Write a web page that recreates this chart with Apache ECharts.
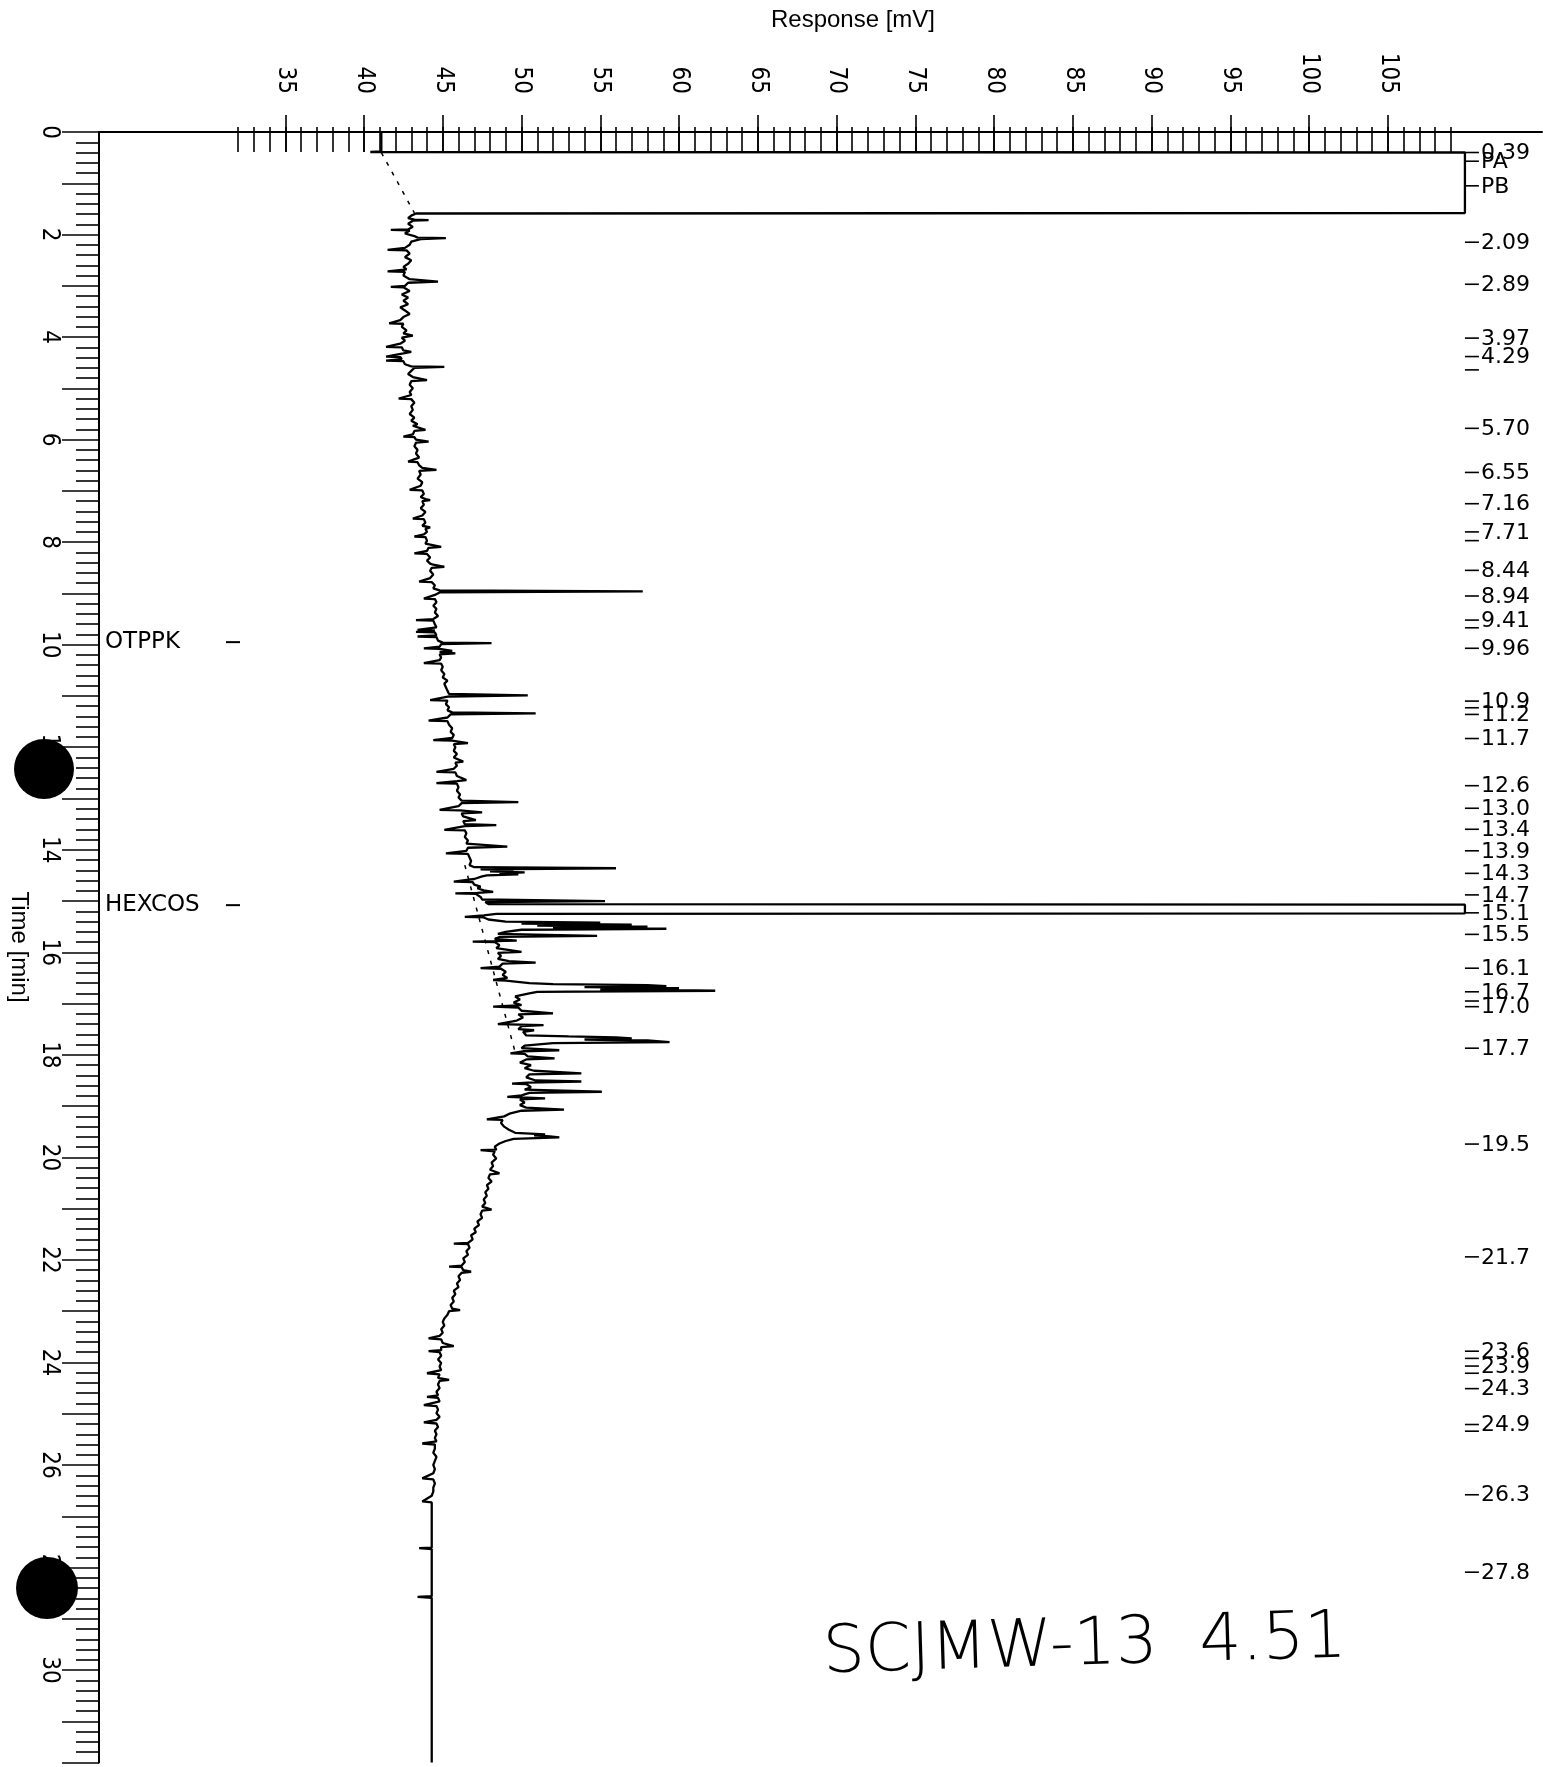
<!DOCTYPE html>
<html><head><meta charset="utf-8">
<script src="https://cdn.jsdelivr.net/npm/echarts@6/dist/echarts.min.js"></script>
<style>html,body{margin:0;padding:0;background:#fff}#c{width:1552px;height:1767px}</style>
</head><body><div id="c"></div>
<script>
// ---------------- data ----------------
// chromatogram trace: [time (min), response (mV)]
const trace = [
[0.00,41.1],[0.38,41.1],[0.39,40.4],[0.40,109.9],[1.58,109.9],[1.59,43.3],
[1.63,43.0],[1.68,42.8],[1.71,43.2],[1.72,44.1],[1.73,43.1],[1.79,42.8],[1.85,43.1],[1.90,42.8],[1.91,41.7],[1.92,42.9],[1.98,42.6],[2.03,43.2],[2.06,43.4],[2.07,45.2],[2.09,43.6],[2.14,43.0],[2.20,42.9],[2.26,42.6],[2.30,41.5],[2.31,42.7],[2.37,42.9],[2.44,42.6],[2.50,43.0],[2.57,42.8],[2.63,42.5],[2.68,42.7],[2.72,41.5],[2.73,42.6],[2.80,42.5],[2.87,42.9],[2.92,44.7],[2.94,42.8],[3.00,42.6],[3.02,41.7],[3.03,42.5],[3.10,42.9],[3.17,42.4],[3.23,42.8],[3.29,42.5],[3.36,42.8],[3.42,42.3],[3.48,42.6],[3.55,42.9],[3.61,42.5],[3.67,42.3],[3.73,41.6],[3.74,42.5],[3.80,42.4],[3.87,42.7],[3.93,42.5],[3.97,43.1],[4.01,42.4],[4.07,42.6],[4.13,42.3],[4.19,41.4],[4.20,42.4],[4.26,42.5],[4.29,43.0],[4.32,42.5],[4.38,41.4],[4.39,42.3],[4.43,42.4],[4.46,41.4],[4.47,42.5],[4.53,42.6],[4.57,43.0],[4.58,45.1],[4.60,43.2],
[4.66,43.0],[4.72,42.8],[4.78,43.1],[4.84,44.0],[4.86,43.0],[4.93,42.9],[5.00,43.1],[5.07,42.9],[5.13,43.0],[5.20,42.2],[5.21,43.0],[5.28,43.2],[5.35,43.0],[5.42,43.1],[5.50,42.9],[5.57,43.2],[5.63,43.0],[5.70,43.4],[5.73,43.1],[5.81,43.9],[5.83,43.2],[5.90,43.1],[5.94,42.5],[5.95,43.2],[6.00,43.3],[6.04,44.1],[6.06,43.3],[6.13,43.2],[6.20,43.4],[6.27,43.3],[6.35,43.5],[6.43,42.8],[6.44,43.4],[6.50,43.5],[6.55,43.7],[6.59,44.6],[6.61,43.5],[6.68,43.6],[6.76,43.4],[6.83,43.7],[6.90,43.6],[6.98,42.9],[6.99,43.7],[7.06,43.8],[7.12,43.6],[7.16,43.9],[7.18,44.2],[7.20,43.7],[7.27,43.8],[7.34,43.6],[7.41,43.9],[7.48,43.7],[7.54,43.1],[7.55,43.8],[7.62,43.9],[7.68,43.7],[7.71,44.2],[7.74,43.9],[7.80,44.0],[7.85,43.8],[7.89,43.2],[7.90,43.9],[7.97,44.0],[8.03,43.9],[8.09,44.9],[8.11,44.1],[8.17,44.0],[8.22,43.2],[8.23,44.0],[8.30,44.2],[8.36,44.0],[8.42,44.2],[8.44,44.4],[8.48,45.1],[8.50,44.3],[8.56,44.2],[8.63,44.4],[8.70,44.2],[8.77,43.5],[8.78,44.3],[8.84,44.5],[8.90,44.4],[8.94,44.8],[8.96,57.7],[8.98,44.8],[9.03,44.5],
[9.10,43.8],[9.11,44.5],[9.17,44.6],[9.24,44.4],[9.30,44.6],[9.37,44.5],[9.44,44.7],[9.50,44.4],[9.52,43.3],[9.53,44.4],[9.60,44.5],[9.66,44.6],[9.71,43.4],[9.72,44.5],[9.75,43.3],[9.76,44.5],[9.82,44.6],[9.84,43.4],[9.85,44.6],[9.92,44.7],[9.96,45.0],[9.97,48.1],[9.99,44.9],[10.04,44.8],[10.07,43.8],[10.08,44.8],[10.12,45.6],[10.14,44.8],[10.17,45.8],[10.19,44.8],[10.25,44.9],[10.30,44.8],[10.36,43.8],[10.37,44.9],[10.43,45.0],[10.50,44.9],
[10.57,45.1],[10.64,45.0],[10.70,45.3],[10.76,45.1],[10.83,45.2],[10.90,45.3],[10.96,45.4],[10.99,50.4],[11.01,45.4],[11.08,44.2],[11.09,45.3],[11.16,45.2],[11.22,45.4],[11.28,45.3],[11.32,45.6],[11.34,50.9],[11.36,45.5],[11.42,45.3],[11.48,44.1],[11.49,45.3],[11.56,45.4],[11.63,45.6],[11.70,45.5],[11.76,45.7],[11.82,45.6],[11.86,44.4],[11.87,45.6],[11.92,46.6],[11.94,45.7],[12.00,45.8],[12.07,45.7],[12.13,45.9],[12.20,45.7],[12.28,46.3],[12.30,45.8],[12.36,45.9],[12.42,45.7],[12.48,44.6],[12.49,45.8],[12.56,45.9],[12.64,46.5],[12.66,45.9],[12.70,44.6],[12.71,45.9],[12.78,46.0],[12.85,45.9],[12.92,46.1],[12.98,46.0],[13.04,46.2],[13.07,49.8],[13.09,46.2],
[13.15,46.0],[13.22,44.8],[13.23,46.1],[13.27,47.5],[13.29,46.2],[13.35,46.3],[13.42,47.1],[13.44,46.3],[13.50,46.4],[13.52,48.4],[13.54,46.4],[13.61,45.1],[13.62,46.4],[13.68,46.5],[13.75,46.4],[13.82,46.6],[13.88,46.5],[13.94,49.1],[13.96,46.6],[14.02,46.5],[14.07,45.2],[14.08,46.6],[14.15,46.7],[14.22,46.8],[14.30,46.7],[14.34,47.0],[14.36,56.0],[14.38,47.4],[14.40,49.5],[14.42,48.0],[14.44,50.2],[14.46,48.6],[14.48,49.8],[14.50,47.8],[14.52,47.5],[14.57,47.0],[14.62,45.7],[14.63,46.9],[14.68,47.0],[14.72,47.4],[14.75,47.2],[14.79,47.6],[14.82,48.2],[14.84,47.2],[14.85,45.8],[14.86,47.1],[14.92,47.4],[14.97,47.5],[15.00,55.3],[15.02,47.7],[15.06,47.9],[15.07,109.9],[15.24,109.9],[15.25,48.4],
[15.28,47.6],[15.31,46.4],[15.32,47.6],[15.36,47.9],[15.40,49.0],[15.42,55.0],[15.44,50.0],[15.46,57.0],[15.48,51.0],[15.50,58.0],[15.52,52.0],[15.54,59.2],[15.56,50.0],[15.60,49.0],[15.64,48.5],[15.68,54.8],[15.70,48.6],[15.74,48.3],[15.77,49.7],[15.79,46.9],[15.80,48.3],[15.86,48.6],[15.92,48.4],[15.99,50.0],[16.01,48.5],[16.07,48.7],[16.13,48.5],[16.17,49.2],[16.20,50.9],[16.22,48.8],[16.28,48.6],[16.31,47.4],[16.32,48.7],[16.38,49.0],[16.44,48.8],[16.50,49.1],[16.54,48.2],[16.55,49.0],[16.60,50.5],[16.62,52.0],[16.64,58.0],[16.66,59.2],[16.68,54.0],[16.70,60.0],[16.72,55.0],[16.75,62.3],[16.77,51.0],[16.80,50.5],[16.86,49.6],[16.92,49.9],[16.98,49.5],[17.03,50.0],[17.05,50.1],[17.06,48.2],[17.08,49.8],[17.14,50.0],[17.19,52.0],[17.21,49.8],[17.27,50.1],[17.33,49.7],[17.40,48.5],[17.41,49.9],[17.42,51.4],[17.44,50.0],[17.50,49.8],[17.52,50.8],[17.55,50.1],[17.62,50.3],[17.64,53.0],[17.66,56.0],[17.68,57.0],[17.70,54.0],[17.72,58.0],[17.75,59.4],[17.77,52.0],[17.82,50.2],[17.87,50.0],[17.91,52.4],[17.93,50.1],[17.97,49.3],[17.98,50.2],[18.03,50.4],[18.07,52.1],[18.09,50.3],[18.15,49.9],[18.20,50.6],[18.26,50.2],[18.31,50.8],[18.36,53.8],[18.38,50.5],[18.44,50.3],[18.50,50.9],[18.52,53.8],[18.54,50.4],[18.56,49.4],[18.57,50.3],[18.63,50.6],[18.68,50.2],[18.72,55.1],[18.74,50.5],[18.79,50.0],[18.82,49.1],[18.83,50.0],[18.85,51.5],[18.87,49.9],[18.93,50.2],[18.98,49.9],[19.03,50.3],[19.07,52.7],[19.09,50.0],[19.14,49.3],[19.20,48.9],[19.26,47.8],[19.27,48.8],[19.33,48.7],[19.40,48.9],[19.46,49.2],[19.52,49.6],[19.55,51.5],[19.57,50.8],[19.59,51.8],[19.61,52.4],[19.64,49.5],[19.68,49.0],
[19.73,48.6],[19.79,48.3],[19.85,48.4],[19.86,47.4],[19.88,48.3],[19.95,48.2],[20.02,48.4],[20.10,48.1],[20.17,48.2],[20.24,48.0],[20.31,48.6],[20.33,48.0],[20.40,47.9],[20.47,48.1],[20.54,47.8],[20.61,47.9],[20.68,47.7],[20.75,47.8],[20.82,47.6],[20.89,47.7],[20.96,47.5],[21.02,48.1],[21.04,47.5],[21.11,47.4],[21.18,47.5],[21.25,47.2],[21.32,47.3],[21.39,47.0],[21.46,47.1],[21.52,46.8],[21.60,46.9],[21.67,46.6],[21.68,45.7],[21.69,46.6],[21.76,46.7],[21.83,46.5],[21.90,46.6],[21.97,46.3],[22.04,46.4],[22.11,46.2],[22.13,45.4],[22.14,46.2],[22.20,46.3],[22.23,46.8],[22.25,46.2],[22.32,46.0],[22.39,46.1],[22.46,45.9],[22.53,46.0],[22.60,45.7],[22.67,45.8],[22.74,45.6],[22.81,45.7],[22.88,45.5],[22.95,45.6],[22.98,46.1],[23.00,45.4],[23.07,45.3],[23.14,45.1],
[23.21,45.0],[23.28,45.1],[23.35,44.9],[23.42,45.0],[23.48,44.8],[23.53,44.1],[23.55,44.9],[23.62,45.0],[23.68,45.7],[23.70,44.9],[23.76,44.9],[23.78,44.1],[23.80,44.8],[23.87,44.9],[23.94,44.7],[24.01,44.9],[24.08,44.8],[24.15,44.9],[24.21,44.0],[24.23,44.8],[24.30,44.7],[24.34,45.4],[24.36,44.8],[24.43,44.7],[24.50,44.8],[24.57,44.6],[24.64,44.7],[24.67,44.0],[24.69,44.7],[24.76,44.8],[24.83,43.8],[24.85,44.6],[24.92,44.7],[24.99,44.6],[25.06,44.8],[25.12,44.6],[25.17,43.8],[25.19,44.6],[25.26,44.7],[25.33,44.5],[25.40,44.6],[25.47,44.5],[25.54,44.6],[25.58,43.7],[25.60,44.5],[25.68,44.5],[25.76,44.4],[25.84,44.6],[25.92,44.5],[26.00,44.4],[26.08,44.5],[26.16,44.4],[26.26,43.7],[26.28,44.4],[26.36,44.5],[26.44,44.4],[26.52,44.4],[26.60,44.3],[26.71,43.7],[26.73,44.3],[26.85,44.3],[27.00,44.3],[27.20,44.3],[27.40,44.3],[27.61,44.3],[27.62,43.5],[27.64,44.3],[28.00,44.3],[28.30,44.3],[28.56,44.3],[28.57,43.4],[28.59,44.3],[29.00,44.3],[29.50,44.3],[30.00,44.3],[30.50,44.3],[31.00,44.3],[31.80,44.3]
];
// dashed integration baselines: [time, response]
const baselineSolvent = [[0.40,41.1],[1.58,43.2]];
const baselineCluster = [[14.30,46.4],[17.95,49.6]];
// retention-time annotations on the right: printed text and where each is printed (min)
const peakTexts = ['0.39','PA','PB','2.09','2.89','3.97','4.29','5.70','6.55','7.16','7.71','8.44','8.94','9.41','9.96','10.9','11.2','11.7','12.6','13.0','13.4','13.9','14.3','14.7','15.1','15.5','16.1','16.7','17.0','17.7','19.5','21.7','23.6','23.9','24.3','24.9','26.3','27.8'];
const peakTimes = [0.40,0.57,1.05,2.15,2.97,4.02,4.38,5.78,6.64,7.25,7.80,8.55,9.05,9.52,10.07,11.10,11.36,11.83,12.75,13.19,13.60,14.02,14.46,14.88,15.23,15.65,16.31,16.77,17.06,17.87,19.74,21.94,23.78,24.07,24.51,25.21,26.58,28.09];
const unlabeledPeakTimes = [4.64,7.97,9.67,11.23,16.95,23.92,24.21,25.34];
// named compounds
const namedTimes = [9.95,15.08];
const namedTexts = ['OTPPK','HEXCOS'];
// axis ranges
const respTickMin = 32, respTickMax = 109, respLabelMin = 35, respLabelMax = 105;
const timeMin = 0, timeMax = 31.8;
const labelResponse = 109.9;

// ---------------- layout ----------------
const X40 = 364, PXMV = 15.75;           // pixel of 40 mV, pixels per mV
const TOP = 132, LEFT = 99, RIGHT = 1542, PXMIN = 51.27;
const px = v => X40 + (v - 40) * PXMV;
const XMIN = 40 - (X40 - LEFT) / PXMV, XMAX = 40 + (RIGHT - X40) / PXMV;
const narrow = '"Liberation Sans Narrow","DejaVu Sans Condensed","Arial Narrow",sans-serif';
const BLK = '#000';

const chart = echarts.init(document.getElementById('c'), null, {renderer:'canvas'});
const hiddenY = i => ({gridIndex:i, type:'value', show:false});
chart.setOption({
  animation:false,
  backgroundColor:'#fff',
  grid:[
    {left:LEFT, top:TOP, width:RIGHT-LEFT, height:(timeMax-timeMin)*PXMIN},
    {left:px(respTickMin), top:TOP, width:px(respTickMax)-px(respTickMin), height:20},
    {left:px(respLabelMin), top:TOP, width:px(respLabelMax)-px(respLabelMin), height:20}
  ],
  xAxis:[
    {gridIndex:0, type:'value', position:'top', min:XMIN, max:XMAX,
     axisLine:{show:true, onZero:false, lineStyle:{color:BLK, width:2}}, axisTick:{show:false}, axisLabel:{show:false}, splitLine:{show:false}},
    {gridIndex:1, type:'value', position:'top', min:respTickMin, max:respTickMax, interval:1,
     axisLine:{show:false}, axisTick:{show:true, length:25, lineStyle:{color:BLK, width:1.6}}, axisLabel:{show:false}, splitLine:{show:false}},
    {gridIndex:2, type:'value', position:'top', min:respLabelMin, max:respLabelMax, interval:5,
     axisLine:{show:false}, axisTick:{show:true, length:37, lineStyle:{color:BLK, width:1.6}},
     axisLabel:{show:true, rotate:-90, margin:38, color:BLK, fontFamily:narrow, fontSize:24}, splitLine:{show:false}}
  ],
  yAxis:[
    {gridIndex:0, type:'value', inverse:true, min:timeMin, max:timeMax, interval:1, position:'left',
     axisLine:{show:true, onZero:false, lineStyle:{color:BLK, width:2}},
     axisTick:{show:true, length:37, lineStyle:{color:BLK, width:1.6}},
     minorTick:{show:true, splitNumber:5, length:23, lineStyle:{color:BLK, width:1.6}},
     axisLabel:{show:true, rotate:-90, margin:38, color:BLK, fontFamily:narrow, fontSize:24,
       formatter: v => (v % 2 === 0 && v < timeMax) ? String(v) : ''},
     splitLine:{show:false}, minorSplitLine:{show:false}},
    hiddenY(1), hiddenY(2)
  ],
  series:[
    {type:'line', xAxisIndex:0, yAxisIndex:0, showSymbol:false, symbol:'none', clip:true,
     data: trace.map(p => [p[1], p[0]]), lineStyle:{color:BLK, width:2.3}, z:5},
    {type:'line', xAxisIndex:0, yAxisIndex:0, showSymbol:false, symbol:'none',
     data: baselineSolvent.map(p => [p[1], p[0]]), lineStyle:{color:BLK, width:1.5, type:[4,7]}, z:4},
    {type:'line', xAxisIndex:0, yAxisIndex:0, showSymbol:false, symbol:'none',
     data: baselineCluster.map(p => [p[1], p[0]]), lineStyle:{color:BLK, width:1.5, type:[4,7]}, z:4},
    {type:'custom', xAxisIndex:0, yAxisIndex:0, clip:false, z:6,
     data: peakTimes.map((t,i) => [labelResponse, t, i]),
     renderItem:(params, api) => {
       const p = api.coord([api.value(0), api.value(1)]);
       const txt = peakTexts[api.value(2)];
       return {type:'group', children:[
         {type:'line', shape:{x1:p[0], y1:p[1], x2:p[0]+14, y2:p[1]}, style:{stroke:BLK, lineWidth:1.6}},
         {type:'text', x:p[0]+16, y:p[1]+1, style:{text:txt, fill:BLK, font:'22px "DejaVu Sans"', align:'left', verticalAlign:'middle'}}
       ]};
     }},
    {type:'custom', xAxisIndex:0, yAxisIndex:0, clip:false, z:6,
     data: unlabeledPeakTimes.map(t => [labelResponse, t]),
     renderItem:(params, api) => {
       const p = api.coord([api.value(0), api.value(1)]);
       return {type:'line', shape:{x1:p[0], y1:p[1], x2:p[0]+14, y2:p[1]}, style:{stroke:BLK, lineWidth:1.6}};
     }},
    {type:'custom', xAxisIndex:0, yAxisIndex:0, clip:false, z:6,
     data: namedTimes.map((t,i) => [XMIN, t, i]),
     renderItem:(params, api) => {
       const p = api.coord([api.value(0), api.value(1)]);
       const txt = namedTexts[api.value(2)];
       return {type:'group', children:[
         {type:'text', x:p[0]+6, y:p[1], style:{text:txt, fill:BLK, font:'23px "DejaVu Sans"', align:'left', verticalAlign:'middle'}},
         {type:'line', shape:{x1:p[0]+127, y1:p[1], x2:p[0]+141, y2:p[1]}, style:{stroke:BLK, lineWidth:2}}
       ]};
     }}
  ],
  graphic:[
    {type:'text', x:853, y:20, style:{text:'Response [mV]', fill:BLK, font:'24px "Liberation Sans"', align:'center', verticalAlign:'middle'}, z:10},
    {type:'text', x:19, y:947, rotation:-Math.PI/2, style:{text:'Time [min]', fill:BLK, font:'24px "Liberation Sans"', align:'center', verticalAlign:'middle'}, z:10},
    {type:'circle', shape:{cx:44, cy:769, r:30}, style:{fill:BLK}, z:20},
    {type:'circle', shape:{cx:47, cy:1588, r:31}, style:{fill:BLK}, z:20},
    {type:'text', x:823, y:1655, rotation:0.03, style:{text:'SCJMW-13  4.51', fill:BLK, font:'200 66px "DejaVu Sans"', align:'left', verticalAlign:'middle'}, z:10}
  ]
});
</script></body></html>
